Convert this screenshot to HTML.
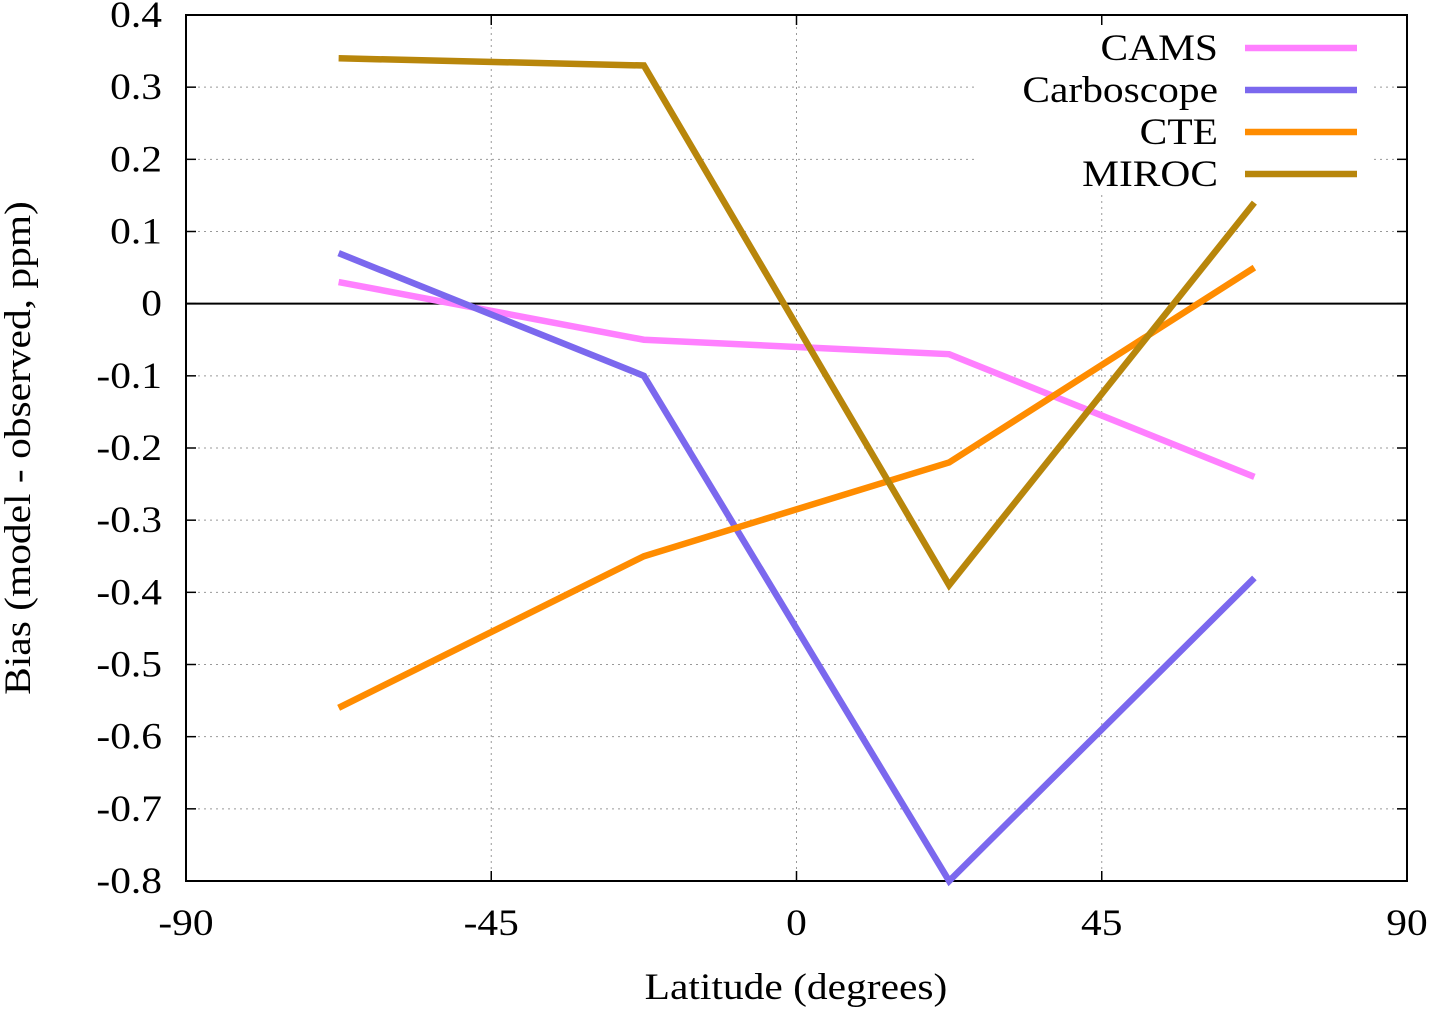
<!DOCTYPE html>
<html><head><meta charset="utf-8"><style>
body{margin:0;background:#fff}
svg text{font-family:"Liberation Serif",serif;fill:#000}
</style></head><body>
<svg id="chart" width="1432" height="1009" xmlns="http://www.w3.org/2000/svg">
<g id="grid"></g>
<g id="axes"></g>
<g id="series"></g>
<g id="legend"></g>
<text x="796" y="999" font-size="37" text-anchor="middle">Latitude (degrees)</text>
<text transform="translate(30,448) rotate(-90)" font-size="37" text-anchor="middle">Bias (model - observed, ppm)</text>
</svg>
<script>
const latitudes = [-67.5, -22.5, 22.5, 67.5];
const seriesNames = ["CAMS", "Carboscope", "CTE", "MIROC"];
const camsValues = [0.03, -0.05, -0.07, -0.24];
const carboscopeValues = [0.07, -0.10, -0.80, -0.38];
const cteValues = [-0.56, -0.35, -0.22, 0.05];
const mirocValues = [0.34, 0.33, -0.39, 0.14];
const xTicks = [-90, -45, 0, 45, 90];
const yTicks = [0.4, 0.3, 0.2, 0.1, 0, -0.1, -0.2, -0.3, -0.4, -0.5, -0.6, -0.7, -0.8];
const colors = ["#ff80ff", "#7b68ee", "#ff8c00", "#b8860b"];

const L=186,R=1407,T=15,B=881;
const xs=v=>L+(v+90)/180*(R-L);
const ys=v=>T+(0.4-v)/1.2*(B-T);
const NS="http://www.w3.org/2000/svg";
function mk(tag,attrs,parent){const e=document.createElementNS(NS,tag);for(const k in attrs)e.setAttribute(k,attrs[k]);parent.appendChild(e);return e;}
const grid=document.getElementById('grid'),axes=document.getElementById('axes'),ser=document.getElementById('series'),leg=document.getElementById('legend');

yTicks.forEach(v=>{
  const y=ys(v);
  if(v!==0.4&&v!==-0.8&&v!==0){const g=mk('line',{x1:L,x2:R,y1:y,y2:y,stroke:'#999','stroke-width':1,'stroke-dasharray':'2,4'},grid);
  
  }
  const t=mk('line',{x1:L,x2:L+10,y1:y,y2:y,stroke:'#000','stroke-width':1.5},axes);
  
  
  const t2=mk('line',{x1:R-10,x2:R,y1:y,y2:y,stroke:'#000','stroke-width':1.5},axes);
  
  
  const lb=mk('text',{x:L-24,y:y+12,'font-size':37,'text-anchor':'end'},axes);
  lb.textContent=(v===0?'0':String(Math.round(v*10)/10));
  
  
});
xTicks.forEach(v=>{
  const x=xs(v);
  if(v!==-90&&v!==90){const g=mk('line',{x1:x,x2:x,y1:T,y2:B,stroke:'#999','stroke-width':1,'stroke-dasharray':'2,4'},grid);
  
  }
  const t=mk('line',{x1:x,x2:x,y1:B-10,y2:B,stroke:'#000','stroke-width':1.5},axes);
  
  
  const t2=mk('line',{x1:x,x2:x,y1:T,y2:T+10,stroke:'#000','stroke-width':1.5},axes);
  
  
  const lb=mk('text',{x:x,y:935,'font-size':37,'text-anchor':'middle'},axes);
  lb.textContent=String(v);
  
  
});
const bg=mk('rect',{x:975,y:22,width:395,height:172,fill:'#fff'},grid);


const zl=mk('line',{x1:L,x2:R,y1:ys(0),y2:ys(0),stroke:'#000','stroke-width':2},axes);


const fr=mk('rect',{x:L,y:T,width:R-L,height:B-T,fill:'none',stroke:'#000','stroke-width':2},axes);



[camsValues,carboscopeValues,cteValues,mirocValues].forEach((vals,i)=>{
  const pts=vals.map((v,j)=>xs(latitudes[j])+','+ys(v)).join(' ');
  const p=mk('polyline',{points:pts,fill:'none',stroke:colors[i],'stroke-width':6.5,'stroke-linejoin':'miter'},ser);
  
  
  const ly=48+i*42;
  const lt=mk('text',{x:1218,y:ly+12,'font-size':37,'text-anchor':'end'},leg);
  lt.textContent=seriesNames[i];
  
  
  const ll=mk('line',{x1:1245,x2:1357,y1:ly,y2:ly,stroke:colors[i],'stroke-width':6.5},leg);
  
  
});
// widen glyphs to match reference serif metrics
document.querySelectorAll('svg text').forEach(t=>{
  const w=t.getComputedTextLength();
  t.setAttribute('textLength',(w*1.12).toFixed(1));
  t.setAttribute('lengthAdjust','spacingAndGlyphs');
});
</script>
</body></html>
